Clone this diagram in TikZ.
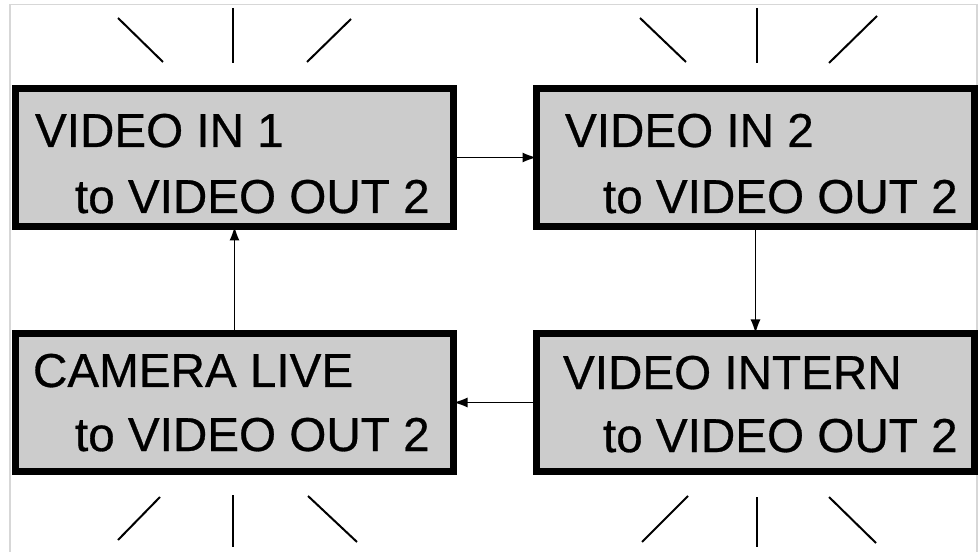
\documentclass[tikz,border=0pt]{standalone}
\usepackage{fontspec}
\setmainfont[FakeBold=0.6]{Liberation Sans}
\usetikzlibrary{arrows.meta}
\definecolor{boxgray}{RGB}{204,204,204}
\definecolor{framegray}{RGB}{215,215,215}
\tikzset{
  dispbox/.style={draw=black, line width=7bp, fill=boxgray, rectangle,
    minimum width=438bp, minimum height=138bp, inner sep=0pt, outer sep=0pt},
  disptext/.style={anchor=base west, inner sep=0pt, outer sep=0pt,
    font=\fontsize{47.8}{56}\selectfont},
  conn/.style={line width=1.6bp, -{Latex[length=14bp,width=10bp]}},
  ray/.style={line width=2bp},
  frameline/.style={draw=framegray, line width=1.5bp}
}
\begin{document}
\begin{tikzpicture}[x=1bp,y=-1bp]
\useasboundingbox (0,0) rectangle (979,552);
% frame
\coordinate (f1) at (10,552);
\coordinate (f2) at (10,4.5);
\coordinate (f3) at (977,4.5);
\coordinate (f4) at (977,552);
\draw[frameline] (f1) -- (f2) -- (f3) -- (f4);
% boxes
\node[dispbox] (tl) at (234.5,157.5) {};
\node[dispbox] (tr) at (755.5,157.5) {};
\node[dispbox] (bl) at (234.5,402.5) {};
\node[dispbox] (br) at (755.5,402.5) {};
% texts
\node[disptext] (tl1) at (35,147) {VIDEO IN 1};
\node[disptext] (tl2) at (75,213) {to VIDEO OUT 2};
\node[disptext] (tr1) at (565,147) {VIDEO IN 2};
\node[disptext] (tr2) at (603,213) {to VIDEO OUT 2};
\node[disptext] (bl1) at (33,387) {CAMERA LIVE};
\node[disptext] (bl2) at (75,451) {to VIDEO OUT 2};
\node[disptext] (br1) at (563,389) {VIDEO INTERN};
\node[disptext] (br2) at (603,452) {to VIDEO OUT 2};
% connectors
\draw[conn] (tl.east) -- (tr.west);
\draw[conn] (tr.south) -- (br.north);
\draw[conn] (br.west) -- (bl.east);
\draw[conn] (bl.north) -- (tl.south);
% rays top-left
\coordinate (a1) at (118,18);  \coordinate (a2) at (163,62);
\coordinate (a3) at (233,8);   \coordinate (a4) at (233,63);
\coordinate (a5) at (351,19);  \coordinate (a6) at (307,62);
\draw[ray] (a1) -- (a2); \draw[ray] (a3) -- (a4); \draw[ray] (a5) -- (a6);
% rays top-right
\coordinate (b1) at (640,18);  \coordinate (b2) at (686,62);
\coordinate (b3) at (757,8);   \coordinate (b4) at (757,63);
\coordinate (b5) at (877,16);  \coordinate (b6) at (829,63);
\draw[ray] (b1) -- (b2); \draw[ray] (b3) -- (b4); \draw[ray] (b5) -- (b6);
% rays bottom-left
\coordinate (c1) at (160,497); \coordinate (c2) at (118,540);
\coordinate (c3) at (233,495); \coordinate (c4) at (233,547);
\coordinate (c5) at (308,496); \coordinate (c6) at (357,542);
\draw[ray] (c1) -- (c2); \draw[ray] (c3) -- (c4); \draw[ray] (c5) -- (c6);
% rays bottom-right
\coordinate (d1) at (688,496); \coordinate (d2) at (642,542);
\coordinate (d3) at (757,497); \coordinate (d4) at (757,547);
\coordinate (d5) at (829,497); \coordinate (d6) at (876,543);
\draw[ray] (d1) -- (d2); \draw[ray] (d3) -- (d4); \draw[ray] (d5) -- (d6);
\end{tikzpicture}
\end{document}
